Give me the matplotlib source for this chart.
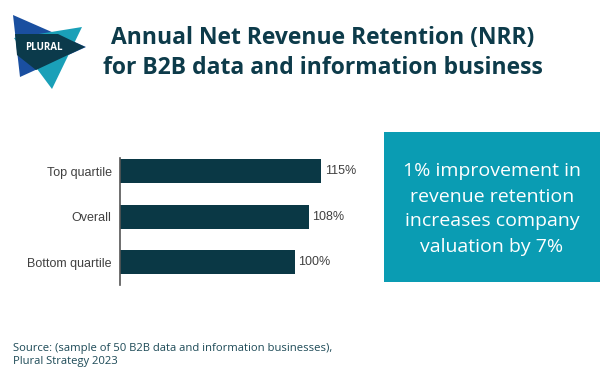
import matplotlib.pyplot as plt
from matplotlib.patches import Polygon, Rectangle

# data
categories = ["Top quartile", "Overall", "Bottom quartile"]
nrr_values = [115, 108, 100]
value_labels = ["115%", "108%", "100%"]

title = "Annual Net Revenue Retention (NRR)\nfor B2B data and information business"
callout = "1% improvement in\nrevenue retention\nincreases company\nvaluation by 7%"
source = "Source: (sample of 50 B2B data and information businesses),\nPlural Strategy 2023"

W, H = 600, 380
fig = plt.figure(figsize=(6, 3.8), dpi=100)
fig.patch.set_facecolor("white")

# background layer in pixel coords
bg = fig.add_axes([0, 0, 1, 1])
bg.set_xlim(0, W)
bg.set_ylim(H, 0)
bg.axis("off")

# logo
bg.add_patch(Polygon([(13, 15), (86, 47), (20, 77)], closed=True, color="#1a4fa0", lw=0))
bg.add_patch(Polygon([(82, 27), (52, 89), (14, 38)], closed=True, color="#1aa0b8", lw=0))
# overlap region, darker
bg.add_patch(Polygon([(15, 34), (58, 34), (85, 47), (36, 70), (17, 55)], closed=True, color="#0b3a4b", lw=0))
bg.text(44, 48, "PLURAL", color="white", fontsize=7, fontweight="bold",
        family="Open Sans", ha="center", va="center")

# title
bg.text(323, 53, title, color="#0d3b4a", fontsize=16.5, fontweight="bold",
        family="Open Sans", ha="center", va="center", linespacing=1.3)

# callout box
bg.add_patch(Rectangle((384, 132), 216, 150, color="#0a9cb3", lw=0))
bg.text(492, 209, callout, color="white", fontsize=14, family="Open Sans",
        ha="center", va="center", linespacing=1.5)

# source
bg.text(13, 355, source, color="#1d4a57", fontsize=8.1, family="Open Sans",
        ha="left", va="center", linespacing=1.35)

# bar chart
ax = fig.add_axes([120 / W, 1 - 285 / H, 260 / W, 127 / H])
ypos = list(range(len(categories)))
ax.barh(ypos, nrr_values, height=0.53, color="#0a3845")
ax.set_xlim(0, 260 / 1.75)
ax.set_ylim(2.5, -0.29)
ax.set_yticks(ypos)
ax.set_yticklabels(categories, fontsize=9, family="Liberation Sans", color="#404040")
ax.tick_params(axis="y", length=0, pad=6)
ax.set_xticks([])
for s in ["top", "right", "bottom"]:
    ax.spines[s].set_visible(False)
ax.spines["left"].set_color("#555555")
ax.spines["left"].set_linewidth(1.2)
ax.patch.set_alpha(0)
for y, v, lab in zip(ypos, nrr_values, value_labels):
    ax.text(v + 2, y, lab, va="center", ha="left", fontsize=9,
            family="Liberation Sans", color="#404040")

fig.savefig("out.png", dpi=100)
